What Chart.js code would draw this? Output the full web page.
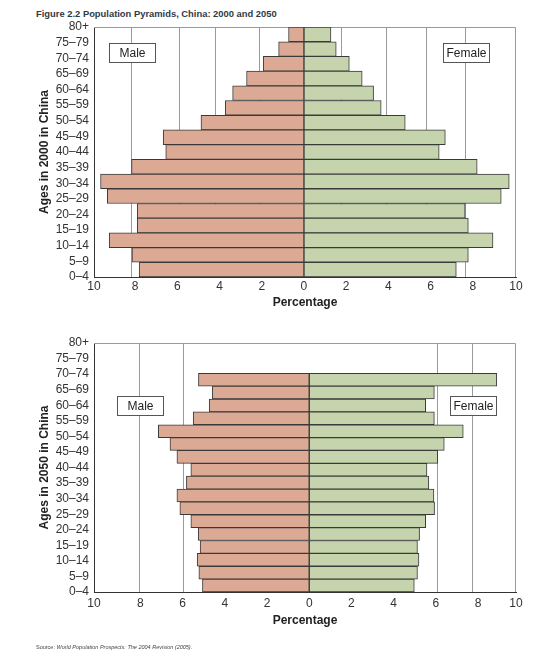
<!DOCTYPE html>
<html><head><meta charset="utf-8">
<script src="https://cdn.jsdelivr.net/npm/chart.js@4.4.1/dist/chart.umd.min.js"></script>
<style>
html,body{margin:0;padding:0;background:#fff;}
body{width:546px;height:663px;position:relative;overflow:hidden;font-family:"Liberation Sans",Arial,sans-serif;}
#title{position:absolute;left:36px;top:8px;font-size:9.4px;font-weight:bold;color:#2f3a45;white-space:nowrap;}
#c1{position:absolute;left:0;top:0;width:546px;height:320px;}
#c2{position:absolute;left:0;top:316px;width:546px;height:316px;}
#source{position:absolute;left:36px;top:644px;font-size:5.5px;color:#444;white-space:nowrap;}
#source i{font-style:italic;}
</style></head><body>
<div id="title">Figure 2.2 Population Pyramids, China: 2000 and 2050</div>
<canvas id="c1" width="546" height="320"></canvas>
<canvas id="c2" width="546" height="316"></canvas>
<div id="source">Source: <i>World Population Prospects: The 2004 Revision (2005).</i></div>
<script>
// ---- data ----
const ageGroups = ['80+','75–79','70–74','65–69','60–64','55–59','50–54','45–49','40–44','35–39','30–34','25–29','20–24','15–19','10–14','5–9','0–4'];
const male2000   = [0.73,1.20,1.93,2.72,3.38,3.73,4.88,6.67,6.55,8.17,9.64,9.32,7.90,7.90,9.23,8.15,7.81];
const female2000 = [1.28,1.53,2.15,2.76,3.30,3.66,4.80,6.70,6.41,8.21,9.73,9.35,7.64,7.79,8.96,7.79,7.22];
const male2050   = [5.25,4.59,4.74,5.50,7.15,6.60,6.27,5.61,5.82,6.27,6.13,5.61,5.26,5.17,5.31,5.23,5.06];
const female2050 = [8.89,5.93,5.52,5.93,7.30,6.40,6.09,5.58,5.67,5.91,5.94,5.52,5.23,5.13,5.20,5.13,4.98];
const sexLabels = ['Male','Female'];
const xTickValues = [-8,-6,-4,-2,0,2,4,6,8];
const xTitle = 'Percentage';

const FONT = '"Liberation Sans", Arial, sans-serif';

const framePlugin = {
  id: 'frame',
  beforeDatasetsDraw(chart) {
    const {ctx, chartArea: a} = chart;
    ctx.save();
    ctx.strokeStyle = '#9a9a9a'; ctx.lineWidth = 1;
    ctx.beginPath();
    ctx.moveTo(a.left, Math.round(a.top) + 0.5);
    ctx.lineTo(Math.round(a.right) - 0.5, Math.round(a.top) + 0.5);
    ctx.lineTo(Math.round(a.right) - 0.5, a.bottom);
    ctx.stroke();
    ctx.restore();
  },
  afterDatasetsDraw(chart, args, opts) {
    const {ctx} = chart;
    const xs = chart.scales.x, ys = chart.scales.yb;
    (opts.boxes || []).forEach(b => {
      const cx = xs.getPixelForValue(b.x), cy = ys.getPixelForValue(b.y);
      const w = opts.w, h = opts.h;
      const l = Math.round(cx - w / 2) + 0.5, t = Math.round(cy - h / 2) + 0.5;
      ctx.save();
      ctx.fillStyle = '#fff'; ctx.fillRect(l, t, w, h);
      ctx.strokeStyle = '#555'; ctx.lineWidth = 1; ctx.strokeRect(l, t, w, h);
      ctx.fillStyle = '#222'; ctx.font = '12px ' + FONT;
      ctx.textAlign = 'center'; ctx.textBaseline = 'middle';
      ctx.fillText(b.text, l + w / 2, t + h / 2 + 0.5);
      ctx.restore();
    });
  }
};

function makeChart(id, c) {
  const toPts = (arr, sign) => arr.map((v, i) => ({x: sign * v, y: i}));
  return new Chart(document.getElementById(id), {
    type: 'bar',
    data: {
      datasets: [
        {label: sexLabels[0], data: toPts(c.male, -1), xAxisID: 'x', yAxisID: 'yb',
         backgroundColor: '#dcaa94', borderColor: '#3a3a3a', borderWidth: 1, borderSkipped: false,
         grouped: false, categoryPercentage: 1, barPercentage: 1},
        {label: sexLabels[1], data: toPts(c.female, 1), xAxisID: 'x', yAxisID: 'yb',
         backgroundColor: '#c5d4ad', borderColor: '#3a3a3a', borderWidth: 1, borderSkipped: false,
         grouped: false, categoryPercentage: 1, barPercentage: 1}
      ]
    },
    options: {
      responsive: false, animation: false, indexAxis: 'y',
      layout: {padding: {left: 37, right: 30, top: 27, bottom: c.padBottom}},
      plugins: {
        legend: {display: false}, tooltip: {enabled: false},
        frame: {w: 46, h: 19, boxes: [
          {x: c.gridValues[0], y: c.boxY, text: sexLabels[0]},
          {x: c.gridValues[c.gridValues.length - 1], y: c.boxY, text: sexLabels[1]}
        ]}
      },
      scales: {
        x: {
          type: 'linear', position: 'bottom', min: c.xMin, max: c.xMax,
          afterBuildTicks: s => { s.ticks = [c.xMin, ...xTickValues, c.xMax].map(v => ({value: v})); },
          afterFit: s => { s.height = c.xAxisHeight; },
          grid: {display: false, drawTicks: false},
          border: {display: true, color: '#333', width: 1},
          ticks: {padding: c.tickPad, color: '#333', font: {family: FONT, size: 12},
                  callback: v => String(Math.round(Math.abs(v)))},
          title: {display: true, text: xTitle, color: '#222', padding: 0,
                  font: {family: FONT, size: 12, weight: 'bold'}}
        },
        xg: {
          type: 'linear', position: 'top', min: c.xMin, max: c.xMax,
          afterBuildTicks: s => { s.ticks = c.gridValues.map(v => ({value: v})); },
          afterFit: s => { s.height = 0; },
          grid: {display: true, drawTicks: false, color: '#9a9a9a', lineWidth: 1},
          border: {display: false},
          ticks: {display: false}
        },
        y: {
          type: 'category', position: 'left', labels: ageGroups, offset: false,
          afterFit: s => { s.width = 57; },
          grid: {display: false, drawTicks: false, offset: false},
          border: {display: true, color: '#333', width: 1},
          ticks: {padding: 5, color: '#333', autoSkip: false, font: {family: FONT, size: 12}},
          title: {display: true, text: c.yTitle, color: '#222', padding: 0,
                  font: {family: FONT, size: 12, weight: 'bold'}}
        },
        yb: {
          type: 'linear', display: false, reverse: true, offset: false,
          grid: {offset: false}, min: c.barMin, max: c.barMax
        }
      }
    },
    plugins: [framePlugin]
  });
}

makeChart('c1', {
  male: male2000, female: female2000, yTitle: 'Ages in 2000 in China',
  xMin: -9.95, xMax: 10.05, barMin: -0.5, barMax: 16.5,
  gridValues: [-8.15, -5.92, -4.17, -2.13, 1.80, 3.89, 5.83, 7.68],
  boxY: 1.23, tickPad: 2, xAxisHeight: 33.2, padBottom: 9.8
});
makeChart('c2', {
  male: male2050, female: female2050, yTitle: 'Ages in 2050 in China',
  xMin: -10.2, xMax: 9.8, barMin: -2.85, barMax: 16.5,
  gridValues: [-8.04, -5.96, 6.10, 7.75],
  boxY: 2.0, tickPad: 4, xAxisHeight: 35.9, padBottom: 4.1
});
</script>
</body></html>
